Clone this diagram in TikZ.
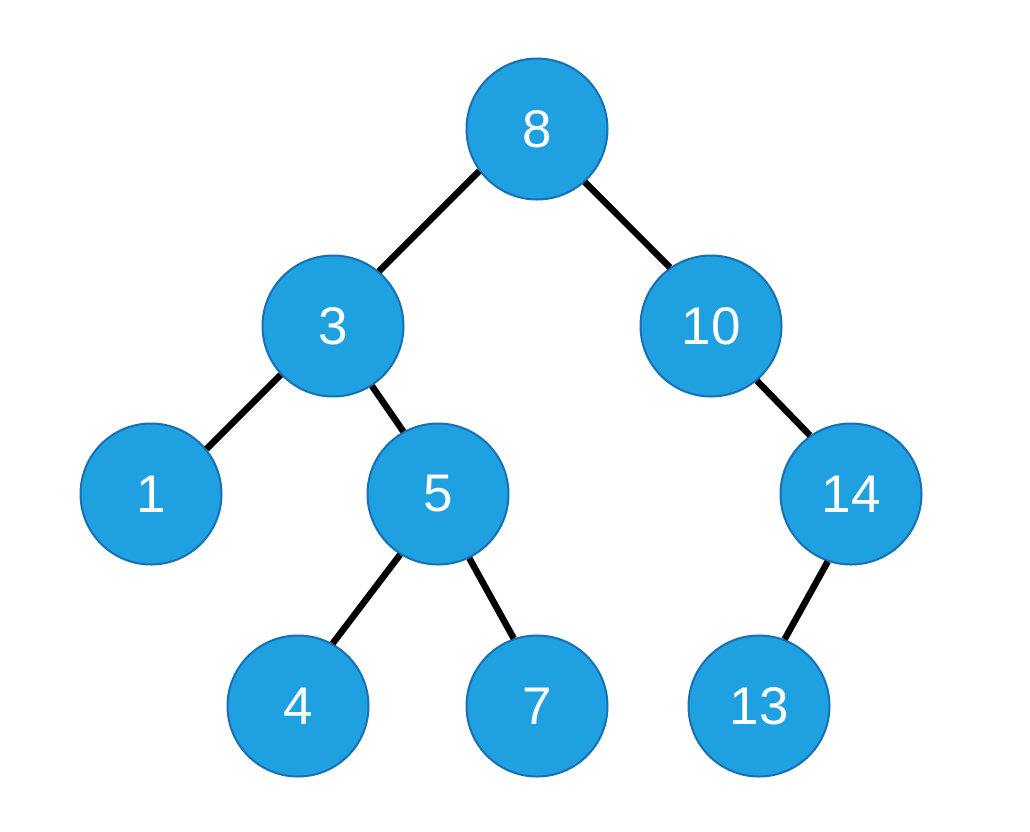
\documentclass[tikz,border=0pt]{standalone}
\usepackage{fontspec}
\setmainfont{Liberation Sans}
\definecolor{nodeblue}{RGB}{30, 160, 225}
\definecolor{rimblue}{RGB}{24, 112, 180}
\usetikzlibrary{positioning}

\begin{document}
\begin{tikzpicture}[
  x=1pt, y=-1pt,
  tnode/.style={circle, draw=rimblue, line width=2pt, fill=nodeblue, minimum size=141pt, inner sep=0pt, text=white, font=\fontsize{53}{53}\selectfont},
  tedge/.style={draw=black, line width=6.5pt}
]
  \useasboundingbox (0,0) rectangle (1030,831);
  \node[tnode] (n8)  at (537,129) {8};
  \node[tnode] (n3)  at (333,326) {3};
  \node[tnode] (n10) at (711,326) {10};
  \node[tnode] (n1)  at (151,494) {1};
  \node[tnode] (n5)  at (438,494) {5};
  \node[tnode] (n14) at (851,494) {14};
  \node[tnode] (n4)  at (298,706) {4};
  \node[tnode] (n7)  at (537,706) {7};
  \node[tnode] (n13) at (759,706) {13};
  % edges
  \draw[tedge] (n8.216) -- (n3.50);
  \draw[tedge] (n8.312) -- (n10.125);
  \draw[tedge] (n3.223) -- (n1.39);
  \draw[tedge] (n3.303) -- (n5.119);
  \draw[tedge] (n10.310) -- (n14.125);
  \draw[tedge] (n5.238) -- (n4.61);
  \draw[tedge] (n5.296) -- (n7.109);
  \draw[tedge] (n14.251) -- (n13.69);
\end{tikzpicture}
\end{document}
